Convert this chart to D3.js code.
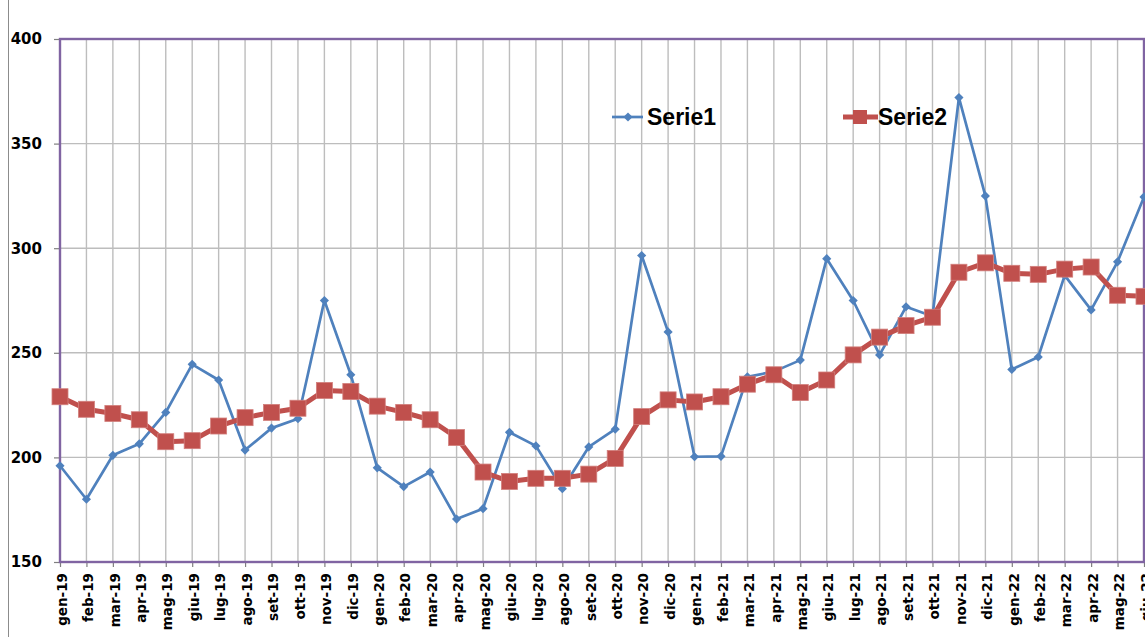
<!DOCTYPE html>
<html>
<head>
<meta charset="utf-8">
<script src="https://cdn.jsdelivr.net/npm/d3@7"></script>
<style>
  body { margin: 0; background: #fff; overflow: hidden; }
  svg { display: block; }
</style>
</head>
<body>
<div id="vis"></div>
<script>
(function () {
    const months = ["gen-19", "feb-19", "mar-19", "apr-19", "mag-19", "giu-19", "lug-19", "ago-19", "set-19", "ott-19", "nov-19", "dic-19",
        "gen-20", "feb-20", "mar-20", "apr-20", "mag-20", "giu-20", "lug-20", "ago-20", "set-20", "ott-20", "nov-20", "dic-20",
        "gen-21", "feb-21", "mar-21", "apr-21", "mag-21", "giu-21", "lug-21", "ago-21", "set-21", "ott-21", "nov-21", "dic-21",
        "gen-22", "feb-22", "mar-22", "apr-22", "mag-22", "giu-22"];

    const serie1 = [196, 180, 201, 206.5, 221.5, 244.5, 237, 203.5, 214, 218.5, 275, 239.5,
        195, 186, 193, 170.5, 175.5, 212, 205.5, 185, 205, 213.5, 296.5, 260,
        200.3, 200.5, 238.5, 241, 246.5, 295, 275, 249, 272, 267.5, 372, 325,
        242, 248, 287, 270.5, 293.5, 324.5];

    const serie2 = [229, 223, 221, 218, 207.5, 208, 215, 219, 221.5, 223.5, 232, 231.5,
        224.5, 221.5, 218, 209.5, 193, 188.5, 190, 190, 192, 199.5, 219.5, 227.5,
        226.5, 229, 235, 239.5, 231, 237, 249, 257.5, 263, 267, 288.5, 293,
        288, 287.5, 290, 291, 277.5, 277];

    const yTicks = [150, 200, 250, 300, 350, 400];
    const seriesNames = ["Serie1", "Serie2"];

    const W = 1145, H = 637;
    const left = 60, right = 1144, top = 39, bottom = 562;

    const svg = d3.select("#vis").append("svg")
        .attr("width", W)
        .attr("height", H);

    const x = d3.scalePoint()
        .domain(months)
        .range([left, right]);

    const y = d3.scaleLinear()
        .domain([150, 400])
        .range([bottom, top]);

    // outer chart border (left edge only visible)
    svg.append("line")
        .attr("x1", 8.5).attr("x2", 8.5)
        .attr("y1", 0).attr("y2", H)
        .attr("stroke", "#8c8c8c")
        .attr("stroke-width", 1);

    // gridlines
    svg.append("g")
        .selectAll("line")
        .data(months.slice(1))
        .join("line")
        .attr("x1", d => x(d)).attr("x2", d => x(d))
        .attr("y1", top).attr("y2", bottom)
        .attr("stroke", "#bdbdbd")
        .attr("stroke-width", 1.4);

    svg.append("g")
        .selectAll("line")
        .data(yTicks.slice(1, -1))
        .join("line")
        .attr("x1", left).attr("x2", right)
        .attr("y1", d => y(d)).attr("y2", d => y(d))
        .attr("stroke", "#bdbdbd")
        .attr("stroke-width", 1.4);

    // y axis
    const yAxis = svg.append("g")
        .attr("transform", `translate(${left},0)`)
        .call(d3.axisLeft(y).tickValues(yTicks).tickSize(6).tickPadding(12));
    yAxis.select(".domain").remove();
    yAxis.selectAll(".tick line").attr("stroke", "#7f7f7f").attr("stroke-width", 1.2);
    yAxis.selectAll(".tick text")
        .attr("fill", "#000")
        .style("font-family", "'DejaVu Sans', sans-serif")
        .style("font-weight", "bold")
        .style("font-size", "15px");

    // x axis
    const xAxis = svg.append("g")
        .attr("transform", `translate(0,${bottom})`)
        .call(d3.axisBottom(x).tickSize(5).tickSizeOuter(0));
    xAxis.select(".domain").remove();
    xAxis.selectAll(".tick line").attr("stroke", "#7f7f7f").attr("stroke-width", 1.2);
    xAxis.selectAll(".tick text")
        .attr("fill", "#000")
        .attr("text-anchor", "end")
        .attr("x", 0).attr("y", 0)
        .attr("dy", "0.35em")
        .attr("transform", "translate(1.5,11) rotate(-90)")
        .style("font-family", "'DejaVu Sans', sans-serif")
        .style("font-weight", "bold")
        .style("font-size", "13.5px");

    // plot area border
    svg.append("rect")
        .attr("x", left).attr("y", top)
        .attr("width", right - left).attr("height", bottom - top)
        .attr("fill", "none")
        .attr("stroke", "#8064a2")
        .attr("stroke-width", 2.4);

    const line = d3.line()
        .x((d, i) => x(months[i]))
        .y(d => y(d));

    // Serie1
    svg.append("path")
        .datum(serie1)
        .attr("fill", "none")
        .attr("stroke", "#4f81bd")
        .attr("stroke-width", 2.7)
        .attr("stroke-linejoin", "round")
        .attr("d", line);

    svg.append("g")
        .selectAll("path")
        .data(serie1)
        .join("path")
        .attr("transform", (d, i) => `translate(${x(months[i])},${y(d)}) rotate(45)`)
        .attr("d", d3.symbol().type(d3.symbolSquare).size(42))
        .attr("fill", "#4f81bd");

    // Serie2
    svg.append("path")
        .datum(serie2)
        .attr("fill", "none")
        .attr("stroke", "#c0504d")
        .attr("stroke-width", 5)
        .attr("stroke-linejoin", "round")
        .attr("d", line);

    svg.append("g")
        .selectAll("rect")
        .data(serie2)
        .join("rect")
        .attr("x", (d, i) => x(months[i]) - 8)
        .attr("y", d => y(d) - 8)
        .attr("width", 16)
        .attr("height", 16)
        .attr("fill", "#c0504d")
        .attr("stroke", "#d27f7c")
        .attr("stroke-width", 0.8);

    // legend
    const legend = svg.append("g");
    const lg1 = legend.append("g").attr("transform", "translate(612,117)");
    lg1.append("line").attr("x1", 0).attr("x2", 31).attr("y1", 0).attr("y2", 0)
        .attr("stroke", "#4f81bd").attr("stroke-width", 2.7);
    lg1.append("path").attr("transform", "translate(16,0) rotate(45)")
        .attr("d", d3.symbol().type(d3.symbolSquare).size(42))
        .attr("fill", "#4f81bd");
    lg1.append("text").attr("x", 35).attr("y", 0).attr("dy", "0.36em")
        .style("font-family", "'Liberation Sans', Arial, sans-serif")
        .style("font-weight", "bold").style("font-size", "23px")
        .text(seriesNames[0]);

    const lg2 = legend.append("g").attr("transform", "translate(843,117)");
    lg2.append("line").attr("x1", 0).attr("x2", 35).attr("y1", 0).attr("y2", 0)
        .attr("stroke", "#c0504d").attr("stroke-width", 5);
    lg2.append("rect").attr("x", 10).attr("y", -7).attr("width", 14).attr("height", 14)
        .attr("fill", "#c0504d");
    lg2.append("text").attr("x", 35).attr("y", 0).attr("dy", "0.36em")
        .style("font-family", "'Liberation Sans', Arial, sans-serif")
        .style("font-weight", "bold").style("font-size", "23px")
        .text(seriesNames[1]);
})();
</script>
</body>
</html>
